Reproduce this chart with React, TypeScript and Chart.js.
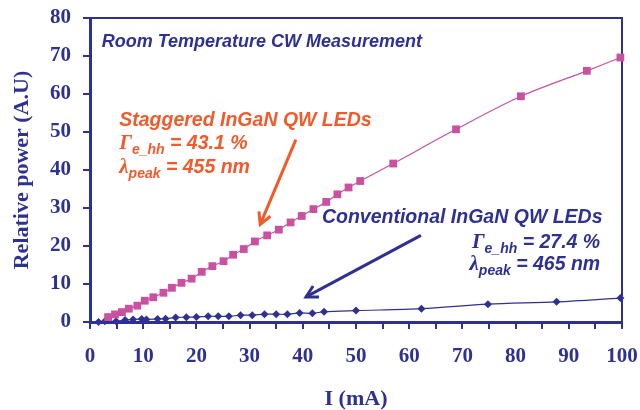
import React, { useEffect, useRef } from 'react';
import { Chart, registerables } from 'chart.js';

Chart.register(...registerables);

// ---- data ----
const staggeredCurrent = [3.4, 4.7, 6.0, 7.3, 8.9, 10.3, 11.9, 13.8, 15.4, 17.2, 19.1, 21.0, 23.0, 25.1, 26.9, 28.9, 31.0, 33.3, 35.5, 37.7, 39.8, 42.0, 44.4, 46.5, 48.6, 50.8, 57.0, 68.8, 81.0, 93.4, 99.7];
const staggeredPower = [1.3, 2.0, 2.6, 3.5, 4.3, 5.6, 6.5, 7.7, 9.0, 10.3, 11.4, 13.2, 14.7, 16.0, 17.7, 19.2, 21.2, 22.8, 24.3, 26.2, 27.9, 29.7, 31.6, 33.6, 35.4, 37.1, 41.7, 50.7, 59.4, 66.1, 69.6];

const conventionalCurrent = [1.6, 2.8, 4.9, 6.6, 8.1, 9.7, 10.6, 12.7, 14.2, 16.1, 18.1, 20.0, 22.2, 24.1, 26.1, 28.3, 30.5, 32.8, 35.0, 37.1, 39.4, 41.8, 44.0, 50.0, 62.3, 74.8, 87.7, 99.7];
const conventionalPower = [0.0, 0.2, 0.2, 0.5, 0.65, 0.8, 0.65, 0.8, 0.85, 1.2, 1.25, 1.3, 1.5, 1.5, 1.5, 1.8, 1.8, 2.05, 2.05, 2.05, 2.4, 2.3, 2.7, 3.0, 3.5, 4.7, 5.3, 6.3];

const xMin = 0, xMax = 100, xStep = 5, xLabelEvery = 10;
const yMin = 0, yMax = 80, yStep = 10;

const xTitle = 'I (mA)';
const yTitle = 'Relative power (A.U)';
const headerText = 'Room Temperature CW Measurement';
const staggeredLabel = 'Staggered InGaN QW LEDs';
const staggeredGamma = ' = 43.1 %';
const staggeredLambda = ' = 455 nm';
const conventionalLabel = 'Conventional InGaN QW LEDs';
const conventionalGamma = ' = 27.4 %';
const conventionalLambda = ' = 465 nm';

// annotation anchors (data units)
const headerAt = [2.2, 72.4];
const staggeredAt = [5.5, 51.7, 45.6, 39.3];
const conventionalAt = [43.6, 26.1];
const conventionalRight = [95.9, 19.5, 13.8];
const orangeArrow = [38.7, 48.0, 32.0, 25.7];
const blueArrow = [62.2, 22.8, 40.6, 6.6];

const NAVY = '#2E3192';
const PINK = '#C9519F';
const ORANGE = '#F15A2B';
const SERIF = "'Liberation Serif', 'Times New Roman', serif";
const SANS = "'Liberation Sans', Arial, sans-serif";

type Part = { text: string; font: string; dy: number };

function richWidth(ctx: CanvasRenderingContext2D, parts: Part[]) {
  let w = 0;
  for (const p of parts) { ctx.font = p.font; w += ctx.measureText(p.text).width; }
  return w;
}
function drawRich(ctx: CanvasRenderingContext2D, parts: Part[], x: number, y: number, align: 'left' | 'right') {
  let cx = align === 'left' ? x : x - richWidth(ctx, parts);
  ctx.textAlign = 'left';
  ctx.textBaseline = 'alphabetic';
  for (const p of parts) {
    ctx.font = p.font;
    ctx.fillText(p.text, cx, y + p.dy);
    cx += ctx.measureText(p.text).width;
  }
}
function arrow(ctx: CanvasRenderingContext2D, x1: number, y1: number, x2: number, y2: number, color: string) {
  const ang = Math.atan2(y2 - y1, x2 - x1);
  const head = 13, spread = 0.5;
  ctx.strokeStyle = color;
  ctx.lineWidth = 3;
  ctx.lineCap = 'butt';
  ctx.lineJoin = 'miter';
  ctx.beginPath();
  ctx.moveTo(x1, y1);
  ctx.lineTo(x2, y2);
  ctx.stroke();
  ctx.beginPath();
  ctx.moveTo(x2 - head * Math.cos(ang - spread), y2 - head * Math.sin(ang - spread));
  ctx.lineTo(x2, y2);
  ctx.lineTo(x2 - head * Math.cos(ang + spread), y2 - head * Math.sin(ang + spread));
  ctx.stroke();
}

const framePlugin = {
  id: 'frame',
  beforeDatasetsDraw(chart: any) {
    const { ctx, chartArea } = chart;
    ctx.save();
    ctx.strokeStyle = NAVY;
    ctx.lineWidth = 2;
    ctx.beginPath();
    ctx.moveTo(chartArea.left, chartArea.top);
    ctx.lineTo(chartArea.right, chartArea.top);
    ctx.lineTo(chartArea.right, chartArea.bottom);
    ctx.stroke();
    ctx.restore();
  },
};

const annotationPlugin = {
  id: 'annotations',
  afterDatasetsDraw(chart: any) {
    const { ctx } = chart;
    const x = chart.scales.x, y = chart.scales.y;
    const px = (v: number) => x.getPixelForValue(v);
    const py = (v: number) => y.getPixelForValue(v);
    ctx.save();
    const big = `italic bold 19.5px ${SANS}`;
    const sub = `italic bold 14px ${SANS}`;
    const greek = `italic bold 21px ${SERIF}`;

    ctx.fillStyle = NAVY;
    drawRich(ctx, [{ text: headerText, font: `italic bold 18px ${SANS}`, dy: 0 }], px(headerAt[0]), py(headerAt[1]), 'left');

    ctx.fillStyle = ORANGE;
    drawRich(ctx, [{ text: staggeredLabel, font: big, dy: 0 }], px(staggeredAt[0]), py(staggeredAt[1]), 'left');
    drawRich(ctx, [
      { text: 'Γ', font: greek, dy: 0 },
      { text: 'e_hh', font: sub, dy: 5 },
      { text: staggeredGamma, font: big, dy: 0 },
    ], px(staggeredAt[0]), py(staggeredAt[2]), 'left');
    drawRich(ctx, [
      { text: 'λ', font: greek, dy: 0 },
      { text: 'peak', font: sub, dy: 5 },
      { text: staggeredLambda, font: big, dy: 0 },
    ], px(staggeredAt[0]), py(staggeredAt[3]), 'left');

    ctx.fillStyle = NAVY;
    drawRich(ctx, [{ text: conventionalLabel, font: big, dy: 0 }], px(conventionalAt[0]), py(conventionalAt[1]), 'left');
    drawRich(ctx, [
      { text: 'Γ', font: greek, dy: 0 },
      { text: 'e_hh', font: sub, dy: 5 },
      { text: conventionalGamma, font: big, dy: 0 },
    ], px(conventionalRight[0]), py(conventionalRight[1]), 'right');
    drawRich(ctx, [
      { text: 'λ', font: greek, dy: 0 },
      { text: 'peak', font: sub, dy: 5 },
      { text: conventionalLambda, font: big, dy: 0 },
    ], px(conventionalRight[0]), py(conventionalRight[2]), 'right');

    arrow(ctx, px(orangeArrow[0]), py(orangeArrow[1]), px(orangeArrow[2]), py(orangeArrow[3]), ORANGE);
    arrow(ctx, px(blueArrow[0]), py(blueArrow[1]), px(blueArrow[2]), py(blueArrow[3]), NAVY);
    ctx.restore();
  },
};

export default function App() {
  const ref = useRef<HTMLCanvasElement>(null);
  useEffect(() => {
    document.body.style.margin = '0';
    const canvas = ref.current!;
    const chart = new Chart(canvas, {
      type: 'scatter',
      data: {
        datasets: [
          {
            label: 'Staggered',
            data: staggeredCurrent.map((v, i) => ({ x: v, y: staggeredPower[i] })),
            showLine: true,
            borderColor: PINK,
            backgroundColor: PINK,
            borderWidth: 1.2,
            pointStyle: 'rect',
            pointRadius: 5.5,
            pointBorderWidth: 0,
            tension: 0.3,
            clip: false,
          } as any,
          {
            label: 'Conventional',
            data: conventionalCurrent.map((v, i) => ({ x: v, y: conventionalPower[i] })),
            showLine: true,
            borderColor: NAVY,
            backgroundColor: NAVY,
            borderWidth: 1.2,
            pointStyle: 'rectRot',
            pointRadius: 4,
            pointBorderWidth: 0,
            tension: 0.3,
            clip: false,
          } as any,
        ],
      },
      options: {
        animation: false,
        responsive: false,
        maintainAspectRatio: false,
        layout: { padding: { top: 18, right: 18, left: 0, bottom: 0 } },
        plugins: { legend: { display: false }, tooltip: { enabled: false } },
        scales: {
          x: {
            type: 'linear',
            min: xMin,
            max: xMax,
            afterFit: (s: any) => { s.height = 88; s.paddingLeft = 0; s.paddingRight = 0; },
            border: { color: NAVY, width: 3 },
            grid: { drawOnChartArea: false, tickLength: 7, color: NAVY, lineWidth: 2 },
            ticks: {
              stepSize: xStep,
              autoSkip: false,
              maxRotation: 0,
              padding: 15,
              color: NAVY,
              font: { family: SERIF, size: 21, weight: 'bold' },
              callback: (v: any) => (Number(v) % xLabelEvery === 0 ? String(v) : ''),
            },
            title: {
              display: true,
              text: xTitle,
              color: NAVY,
              font: { family: SERIF, size: 22, weight: 'bold', lineHeight: 1 },
              padding: { top: 0, bottom: 0 },
            },
          },
          y: {
            type: 'linear',
            min: yMin,
            max: yMax,
            afterFit: (s: any) => { s.width = 90; s.paddingTop = 0; s.paddingBottom = 0; },
            border: { color: NAVY, width: 3 },
            grid: { drawOnChartArea: false, tickLength: 7, color: NAVY, lineWidth: 2 },
            ticks: {
              stepSize: yStep,
              padding: 12,
              color: NAVY,
              font: { family: SERIF, size: 21, weight: 'bold' },
            },
            title: {
              display: true,
              text: yTitle,
              color: NAVY,
              font: { family: SERIF, size: 22, weight: 'bold' },
              padding: { top: 9, bottom: 0 },
            },
          },
        },
      } as any,
      plugins: [framePlugin, annotationPlugin],
    });
    return () => chart.destroy();
  }, []);
  return (
    <div style={{ width: 640, height: 410, position: 'relative' }}>
      <canvas ref={ref} width={640} height={410} style={{ display: 'block', width: 640, height: 410 }} />
    </div>
  );
}
